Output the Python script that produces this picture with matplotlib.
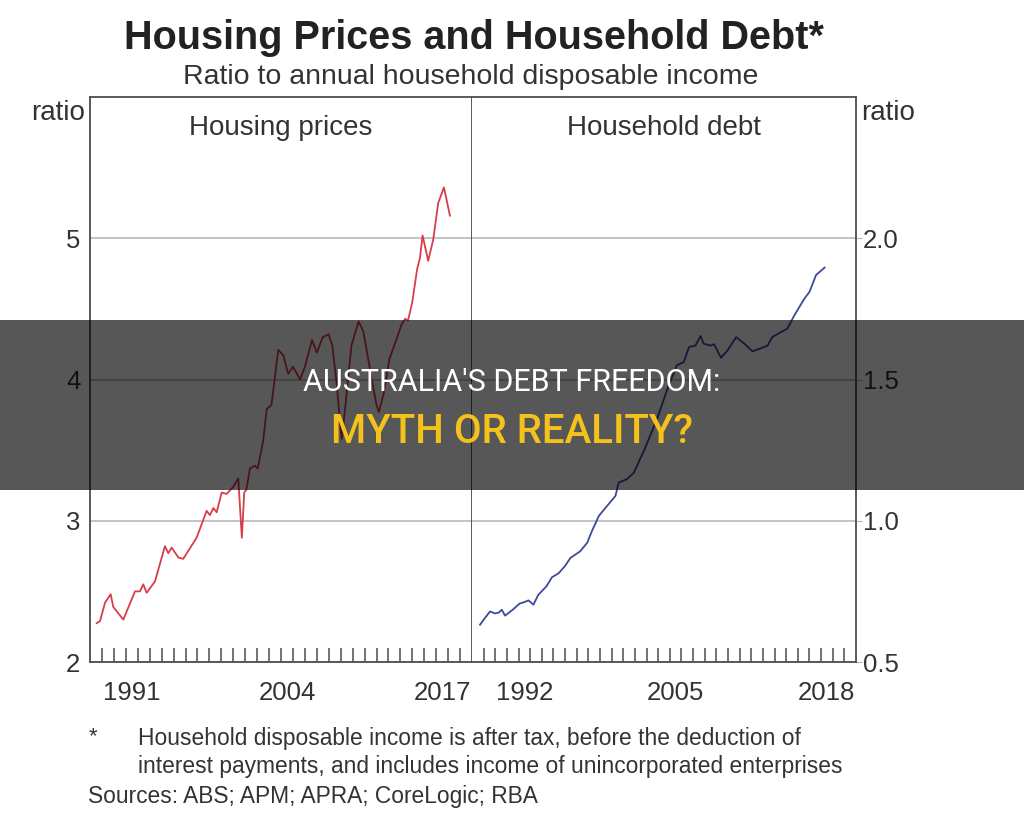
import numpy as np
import matplotlib.pyplot as plt
from matplotlib.patches import Rectangle

plt.rcParams['font.family'] = ['Liberation Sans', 'DejaVu Sans']
narrow = ['Liberation Sans Narrow', 'Liberation Sans', 'DejaVu Sans']

# housing prices, ratio to annual household disposable income
house_year = [1988.56, 1988.84, 1989.26, 1989.73, 1989.95, 1990.79, 1991.77, 1992.19,
              1992.46, 1992.75, 1993.44, 1994.28, 1994.56, 1994.84, 1995.40, 1995.81,
              1996.93, 1997.77, 1998.05, 1998.33, 1998.61, 1999.03, 1999.45, 2000.0,
              2000.42, 2000.72, 2000.92, 2001.1, 2001.4, 2001.8, 2002.05, 2002.5,
              2002.8, 2003.2, 2003.77, 2004.2, 2004.6, 2005.0, 2005.6, 2006.0,
              2006.6, 2007.0, 2007.5, 2007.98, 2008.3, 2008.7, 2008.97, 2009.1,
              2009.4, 2009.9, 2010.5, 2010.9, 2011.5, 2012.0, 2012.2, 2012.6,
              2013.1, 2013.7, 2014.1, 2014.4, 2014.65, 2015.0, 2015.4, 2015.64,
              2015.86, 2016.33, 2016.75, 2017.17, 2017.65, 2018.15]
house_val = [2.275, 2.29, 2.42, 2.48, 2.39, 2.30, 2.50, 2.50,
             2.55, 2.49, 2.57, 2.82, 2.77, 2.81, 2.74, 2.73,
             2.88, 3.07, 3.04, 3.09, 3.06, 3.20, 3.19, 3.24,
             3.30, 2.88, 3.20, 3.22, 3.37, 3.39, 3.37, 3.56,
             3.79, 3.82, 4.21, 4.17, 4.04, 4.09, 4.00, 4.09,
             4.28, 4.19, 4.30, 4.32, 4.24, 3.94, 3.67, 3.58,
             3.82, 4.24, 4.41, 4.34, 4.05, 3.82, 3.77, 3.90,
             4.15, 4.29, 4.39, 4.43, 4.42, 4.55, 4.78, 4.86,
             5.02, 4.84, 4.99, 5.25, 5.36, 5.16]

# household debt
debt_year = [1988.69, 1989.1, 1989.55, 1989.95, 1990.3, 1990.56, 1990.84, 1991.5,
             1992.1, 1992.5, 1992.85, 1993.28, 1993.7, 1994.4, 1994.87, 1995.44,
             1996.0, 1996.45, 1997.3, 1997.9, 1998.3, 1998.9, 1999.6, 2000.33,
             2000.6, 2001.3, 2001.9, 2002.8, 2003.9, 2004.8, 2005.6, 2006.2,
             2006.65, 2007.2, 2007.65, 2007.9, 2008.5, 2008.8, 2009.4, 2009.96,
             2010.7, 2011.4, 2012.1, 2012.8, 2013.4, 2013.8, 2014.55, 2015.1,
             2015.7, 2016.56, 2017.0, 2017.57, 2018.3]
debt_val = [0.632, 0.655, 0.679, 0.672, 0.675, 0.685, 0.664, 0.685,
            0.707, 0.712, 0.718, 0.703, 0.738, 0.768, 0.800, 0.814,
            0.840, 0.868, 0.892, 0.922, 0.963, 1.017, 1.052, 1.088,
            1.135, 1.147, 1.170, 1.250, 1.360, 1.467, 1.550, 1.562,
            1.615, 1.620, 1.654, 1.627, 1.620, 1.625, 1.577, 1.603,
            1.650, 1.627, 1.600, 1.610, 1.620, 1.650, 1.668, 1.680,
            1.727, 1.786, 1.810, 1.870, 1.896]

left_labels = ['1991', '2004', '2017']
right_labels = ['1992', '2005', '2018']

W, H = 1024, 827
frame = '#4d4d4d'
grid = '#b3b3b3'
txt = '#333333'

fig = plt.figure(figsize=(W / 100, H / 100), dpi=100)
ax1 = fig.add_axes([90 / W, 165 / H, 382 / W, 565 / H])
ax2 = fig.add_axes([472 / W, 165 / H, 384 / W, 565 / H])

ax1.plot(house_year, house_val, color='#d63e4b', lw=1.3)
ax2.plot(debt_year, debt_val, color='#3d4a9c', lw=1.3)

ax1.set_xlim(1988, 2020)
ax1.set_ylim(2, 6)
ax2.set_xlim(1988, 2021)
ax2.set_ylim(0.5, 2.5)

for ax, labels, last in [(ax1, left_labels, 2020), (ax2, right_labels, 2021)]:
    for s in ax.spines.values():
        s.set_color(frame)
        s.set_linewidth(1.3)
    ax.set_xticks([int(l) + 0.5 for l in labels], labels)
    ax.set_xticks(range(1989, last), minor=True)
    ax.tick_params(axis='x', which='major', length=0, pad=14, labelsize=18.5, labelcolor=txt)
    ax.tick_params(axis='x', which='minor', direction='in', length=10, width=1.1, color=frame)
    ax.grid(axis='y', color=grid, lw=1.1)
    ax.set_axisbelow(True)

ax1.set_yticks([2, 3, 4, 5], ['2', '3', '4', '5'])
ax1.tick_params(axis='y', length=0, pad=7, labelsize=18.5, labelcolor=txt)
ax2.set_yticks([0.5, 1.0, 1.5, 2.0], ['0.5', '1.0', '1.5', '2.0'])
ax2.yaxis.tick_right()
ax2.tick_params(axis='y', length=4, color=grid, pad=1, labelsize=18.5, labelcolor=txt)
ax2.spines['left'].set_visible(False)

ax1.text(0.5, 1 - 31 / 565, 'Housing prices', transform=ax1.transAxes, ha='center', va='center',
         fontsize=20, color=txt)
ax2.text(0.5, 1 - 31 / 565, 'Household debt', transform=ax2.transAxes, ha='center', va='center',
         fontsize=20, color=txt)

fig.text(85 / W, 1 - 113 / H, 'ratio', ha='right', va='center', fontsize=20, color=txt)
fig.text(861 / W, 1 - 113 / H, 'ratio', ha='left', va='center', fontsize=20, color=txt)

fig.text(474 / W, 1 - 38 / H, 'Housing Prices and Household Debt*', ha='center', va='center',
         fontsize=28.5, fontweight='bold', family=narrow, color='#222222')
fig.text(471 / W, 1 - 77 / H, 'Ratio to annual household disposable income', ha='center', va='center',
         fontsize=20.5, family=narrow, color=txt)

fig.text(93 / W, 1 - 737 / H, '*', ha='center', va='center', fontsize=16, family=narrow, color=txt)
fig.text(138 / W, 1 - 738 / H, 'Household disposable income is after tax, before the deduction of',
         ha='left', va='center', fontsize=16.4, family=narrow, color=txt)
fig.text(138 / W, 1 - 766 / H, 'interest payments, and includes income of unincorporated enterprises',
         ha='left', va='center', fontsize=16.4, family=narrow, color=txt)
fig.text(88 / W, 1 - 797 / H, 'Sources: ABS; APM; APRA; CoreLogic; RBA',
         ha='left', va='center', fontsize=16.4, family=narrow, color=txt)

# dark banner across the middle
fig.add_artist(Rectangle((0, 1 - 490 / H), 1, 170 / H, transform=fig.transFigure,
                         facecolor='black', alpha=0.66, edgecolor='none', zorder=10))
fig.text(0.5, 1 - 382 / H, "AUSTRALIA'S DEBT FREEDOM:", ha='center', va='center',
         fontsize=22, color='white', family=['Roboto', 'DejaVu Sans'], zorder=11)
fig.text(0.5, 1 - 432 / H, 'MYTH OR REALITY?', ha='center', va='center',
         fontsize=29, color='#f5c21b', fontweight='medium', family=['Roboto', 'DejaVu Sans'], zorder=11)

fig.savefig('out.png', dpi=100)
